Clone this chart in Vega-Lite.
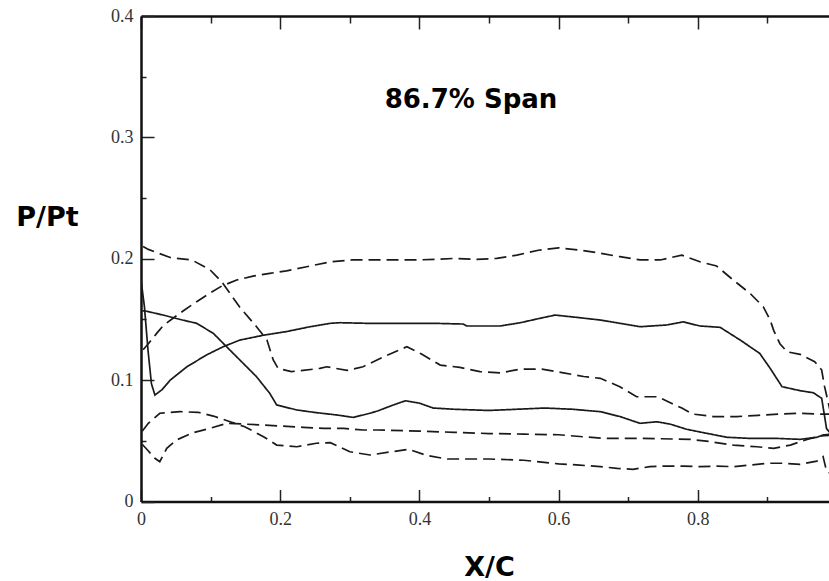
{
  "$schema": "https://vega.github.io/schema/vega-lite/v6.json",
  "autosize": {"type": "none"},
  "padding": {"left": 141, "top": 16, "right": 0, "bottom": 79.5},
  "width": 688,
  "height": 485.5,
  "background": "white",
  "title": {
    "text": "86.7% Span",
    "font": "DejaVu Sans",
    "fontWeight": "bold",
    "fontSize": 26,
    "color": "#000",
    "anchor": "middle",
    "frame": "group",
    "orient": "top",
    "baseline": "alphabetic",
    "offset": 0,
    "dx": -14,
    "dy": 127
  },
  "config": {
    "view": {"stroke": null},
    "axis": {
      "grid": false,
      "domainColor": "#111",
      "domainWidth": 2.5,
      "tickColor": "#222",
      "tickWidth": 1.5,
      "labelFont": "Liberation Serif",
      "labelFontSize": 18,
      "labelColor": "#333"
    }
  },
  "data": {
    "values": [
      {"s": "A", "x": 0.003, "y": 0.21}, {"s": "A", "x": 0.0105, "y": 0.2077}, {"s": "A", "x": 0.042, "y": 0.201}, {"s": "A", "x": 0.073, "y": 0.199}, {"s": "A", "x": 0.099, "y": 0.191}, {"s": "A", "x": 0.116, "y": 0.181}, {"s": "A", "x": 0.142, "y": 0.16}, {"s": "A", "x": 0.166, "y": 0.144}, {"s": "A", "x": 0.181, "y": 0.133}, {"s": "A", "x": 0.19, "y": 0.1166}, {"s": "A", "x": 0.197, "y": 0.1097}, {"s": "A", "x": 0.216, "y": 0.107}, {"s": "A", "x": 0.233, "y": 0.108}, {"s": "A", "x": 0.257, "y": 0.1097}, {"s": "A", "x": 0.267, "y": 0.111}, {"s": "A", "x": 0.296, "y": 0.108}, {"s": "A", "x": 0.319, "y": 0.111}, {"s": "A", "x": 0.348, "y": 0.119}, {"s": "A", "x": 0.382, "y": 0.1275}, {"s": "A", "x": 0.403, "y": 0.1215}, {"s": "A", "x": 0.43, "y": 0.1124}, {"s": "A", "x": 0.458, "y": 0.1105}, {"s": "A", "x": 0.487, "y": 0.107}, {"s": "A", "x": 0.516, "y": 0.106}, {"s": "A", "x": 0.545, "y": 0.109}, {"s": "A", "x": 0.576, "y": 0.109}, {"s": "A", "x": 0.607, "y": 0.106}, {"s": "A", "x": 0.636, "y": 0.103}, {"s": "A", "x": 0.66, "y": 0.1015}, {"s": "A", "x": 0.688, "y": 0.0946}, {"s": "A", "x": 0.712, "y": 0.0863}, {"s": "A", "x": 0.743, "y": 0.0863}, {"s": "A", "x": 0.762, "y": 0.081}, {"s": "A", "x": 0.777, "y": 0.077}, {"s": "A", "x": 0.793, "y": 0.072}, {"s": "A", "x": 0.822, "y": 0.07}, {"s": "A", "x": 0.856, "y": 0.07}, {"s": "A", "x": 0.887, "y": 0.071}, {"s": "A", "x": 0.918, "y": 0.072}, {"s": "A", "x": 0.947, "y": 0.0727}, {"s": "A", "x": 0.976, "y": 0.072}, {"s": "A", "x": 1.0, "y": 0.072},

      {"s": "B", "x": 0.003, "y": 0.125}, {"s": "B", "x": 0.0105, "y": 0.13}, {"s": "B", "x": 0.0225, "y": 0.1385}, {"s": "B", "x": 0.032, "y": 0.145}, {"s": "B", "x": 0.046, "y": 0.151}, {"s": "B", "x": 0.063, "y": 0.158}, {"s": "B", "x": 0.08, "y": 0.1646}, {"s": "B", "x": 0.097, "y": 0.171}, {"s": "B", "x": 0.116, "y": 0.1775}, {"s": "B", "x": 0.1375, "y": 0.1825}, {"s": "B", "x": 0.161, "y": 0.1857}, {"s": "B", "x": 0.185, "y": 0.188}, {"s": "B", "x": 0.209, "y": 0.19}, {"s": "B", "x": 0.238, "y": 0.1934}, {"s": "B", "x": 0.272, "y": 0.1975}, {"s": "B", "x": 0.303, "y": 0.199}, {"s": "B", "x": 0.334, "y": 0.199}, {"s": "B", "x": 0.363, "y": 0.199}, {"s": "B", "x": 0.394, "y": 0.199}, {"s": "B", "x": 0.422, "y": 0.1995}, {"s": "B", "x": 0.451, "y": 0.2003}, {"s": "B", "x": 0.482, "y": 0.1995}, {"s": "B", "x": 0.511, "y": 0.2003}, {"s": "B", "x": 0.54, "y": 0.203}, {"s": "B", "x": 0.571, "y": 0.207}, {"s": "B", "x": 0.6, "y": 0.209}, {"s": "B", "x": 0.631, "y": 0.207}, {"s": "B", "x": 0.655, "y": 0.205}, {"s": "B", "x": 0.688, "y": 0.2017}, {"s": "B", "x": 0.717, "y": 0.199}, {"s": "B", "x": 0.746, "y": 0.199}, {"s": "B", "x": 0.777, "y": 0.203}, {"s": "B", "x": 0.803, "y": 0.1975}, {"s": "B", "x": 0.827, "y": 0.194}, {"s": "B", "x": 0.851, "y": 0.1824}, {"s": "B", "x": 0.875, "y": 0.1715}, {"s": "B", "x": 0.894, "y": 0.1605}, {"s": "B", "x": 0.904, "y": 0.1495}, {"s": "B", "x": 0.909, "y": 0.141}, {"s": "B", "x": 0.918, "y": 0.13}, {"s": "B", "x": 0.928, "y": 0.1234}, {"s": "B", "x": 0.947, "y": 0.1212}, {"s": "B", "x": 0.968, "y": 0.1152}, {"s": "B", "x": 0.978, "y": 0.1083}, {"s": "B", "x": 0.982, "y": 0.095}, {"s": "B", "x": 0.99, "y": 0.075}, {"s": "B", "x": 1.0, "y": 0.06},

      {"s": "C", "x": 0.0, "y": 0.183}, {"s": "C", "x": 0.005, "y": 0.16}, {"s": "C", "x": 0.01, "y": 0.125}, {"s": "C", "x": 0.015, "y": 0.097}, {"s": "C", "x": 0.02, "y": 0.0877}, {"s": "C", "x": 0.03, "y": 0.092}, {"s": "C", "x": 0.042, "y": 0.1}, {"s": "C", "x": 0.066, "y": 0.111}, {"s": "C", "x": 0.094, "y": 0.1207}, {"s": "C", "x": 0.118, "y": 0.1275}, {"s": "C", "x": 0.142, "y": 0.133}, {"s": "C", "x": 0.176, "y": 0.137}, {"s": "C", "x": 0.209, "y": 0.14}, {"s": "C", "x": 0.243, "y": 0.144}, {"s": "C", "x": 0.272, "y": 0.1468}, {"s": "C", "x": 0.286, "y": 0.1473}, {"s": "C", "x": 0.324, "y": 0.1468}, {"s": "C", "x": 0.372, "y": 0.1468}, {"s": "C", "x": 0.42, "y": 0.1468}, {"s": "C", "x": 0.463, "y": 0.1462}, {"s": "C", "x": 0.468, "y": 0.1446}, {"s": "C", "x": 0.516, "y": 0.1446}, {"s": "C", "x": 0.545, "y": 0.1473}, {"s": "C", "x": 0.573, "y": 0.1509}, {"s": "C", "x": 0.595, "y": 0.1536}, {"s": "C", "x": 0.626, "y": 0.1517}, {"s": "C", "x": 0.66, "y": 0.1495}, {"s": "C", "x": 0.688, "y": 0.1468}, {"s": "C", "x": 0.717, "y": 0.144}, {"s": "C", "x": 0.755, "y": 0.1454}, {"s": "C", "x": 0.779, "y": 0.148}, {"s": "C", "x": 0.803, "y": 0.1446}, {"s": "C", "x": 0.832, "y": 0.1435}, {"s": "C", "x": 0.861, "y": 0.133}, {"s": "C", "x": 0.889, "y": 0.122}, {"s": "C", "x": 0.904, "y": 0.1097}, {"s": "C", "x": 0.921, "y": 0.0946}, {"s": "C", "x": 0.947, "y": 0.0913}, {"s": "C", "x": 0.966, "y": 0.0896}, {"s": "C", "x": 0.978, "y": 0.085}, {"s": "C", "x": 0.985, "y": 0.06}, {"s": "C", "x": 1.0, "y": 0.05},

      {"s": "D", "x": 0.002, "y": 0.157}, {"s": "D", "x": 0.006, "y": 0.157}, {"s": "D", "x": 0.032, "y": 0.1536}, {"s": "D", "x": 0.056, "y": 0.15}, {"s": "D", "x": 0.08, "y": 0.1468}, {"s": "D", "x": 0.104, "y": 0.1385}, {"s": "D", "x": 0.123, "y": 0.1275}, {"s": "D", "x": 0.142, "y": 0.1166}, {"s": "D", "x": 0.166, "y": 0.1028}, {"s": "D", "x": 0.185, "y": 0.0891}, {"s": "D", "x": 0.195, "y": 0.0795}, {"s": "D", "x": 0.224, "y": 0.0754}, {"s": "D", "x": 0.252, "y": 0.0732}, {"s": "D", "x": 0.281, "y": 0.0713}, {"s": "D", "x": 0.305, "y": 0.0693}, {"s": "D", "x": 0.329, "y": 0.0727}, {"s": "D", "x": 0.341, "y": 0.0748}, {"s": "D", "x": 0.36, "y": 0.079}, {"s": "D", "x": 0.38, "y": 0.083}, {"s": "D", "x": 0.4, "y": 0.081}, {"s": "D", "x": 0.42, "y": 0.077}, {"s": "D", "x": 0.45, "y": 0.076}, {"s": "D", "x": 0.5, "y": 0.075}, {"s": "D", "x": 0.54, "y": 0.076}, {"s": "D", "x": 0.58, "y": 0.077}, {"s": "D", "x": 0.62, "y": 0.076}, {"s": "D", "x": 0.66, "y": 0.074}, {"s": "D", "x": 0.688, "y": 0.07}, {"s": "D", "x": 0.717, "y": 0.0644}, {"s": "D", "x": 0.741, "y": 0.0657}, {"s": "D", "x": 0.76, "y": 0.0638}, {"s": "D", "x": 0.784, "y": 0.0595}, {"s": "D", "x": 0.808, "y": 0.0567}, {"s": "D", "x": 0.842, "y": 0.0529}, {"s": "D", "x": 0.875, "y": 0.052}, {"s": "D", "x": 0.913, "y": 0.052}, {"s": "D", "x": 0.947, "y": 0.0512}, {"s": "D", "x": 0.971, "y": 0.0529}, {"s": "D", "x": 0.98, "y": 0.0548}, {"s": "D", "x": 1.0, "y": 0.056},

      {"s": "E", "x": 0.002, "y": 0.058}, {"s": "E", "x": 0.0105, "y": 0.0644}, {"s": "E", "x": 0.027, "y": 0.0727}, {"s": "E", "x": 0.056, "y": 0.074}, {"s": "E", "x": 0.082, "y": 0.0735}, {"s": "E", "x": 0.104, "y": 0.0704}, {"s": "E", "x": 0.128, "y": 0.0657}, {"s": "E", "x": 0.149, "y": 0.0616}, {"s": "E", "x": 0.176, "y": 0.0534}, {"s": "E", "x": 0.195, "y": 0.0465}, {"s": "E", "x": 0.224, "y": 0.0451}, {"s": "E", "x": 0.252, "y": 0.048}, {"s": "E", "x": 0.272, "y": 0.0485}, {"s": "E", "x": 0.3, "y": 0.041}, {"s": "E", "x": 0.329, "y": 0.0383}, {"s": "E", "x": 0.36, "y": 0.041}, {"s": "E", "x": 0.385, "y": 0.043}, {"s": "E", "x": 0.41, "y": 0.038}, {"s": "E", "x": 0.44, "y": 0.035}, {"s": "E", "x": 0.5, "y": 0.035}, {"s": "E", "x": 0.55, "y": 0.034}, {"s": "E", "x": 0.6, "y": 0.031}, {"s": "E", "x": 0.63, "y": 0.03}, {"s": "E", "x": 0.66, "y": 0.0287}, {"s": "E", "x": 0.684, "y": 0.0273}, {"s": "E", "x": 0.707, "y": 0.0265}, {"s": "E", "x": 0.731, "y": 0.0287}, {"s": "E", "x": 0.755, "y": 0.0292}, {"s": "E", "x": 0.779, "y": 0.0292}, {"s": "E", "x": 0.803, "y": 0.0287}, {"s": "E", "x": 0.827, "y": 0.0292}, {"s": "E", "x": 0.851, "y": 0.0287}, {"s": "E", "x": 0.875, "y": 0.03}, {"s": "E", "x": 0.899, "y": 0.0315}, {"s": "E", "x": 0.923, "y": 0.0315}, {"s": "E", "x": 0.947, "y": 0.0306}, {"s": "E", "x": 0.971, "y": 0.0333}, {"s": "E", "x": 0.98, "y": 0.037}, {"s": "E", "x": 0.985, "y": 0.025}, {"s": "E", "x": 1.0, "y": 0.02},

      {"s": "F", "x": 0.002, "y": 0.047}, {"s": "F", "x": 0.01, "y": 0.042}, {"s": "F", "x": 0.02, "y": 0.0356}, {"s": "F", "x": 0.027, "y": 0.0328}, {"s": "F", "x": 0.037, "y": 0.0438}, {"s": "F", "x": 0.051, "y": 0.0507}, {"s": "F", "x": 0.075, "y": 0.0567}, {"s": "F", "x": 0.099, "y": 0.0603}, {"s": "F", "x": 0.123, "y": 0.0644}, {"s": "F", "x": 0.147, "y": 0.0638}, {"s": "F", "x": 0.176, "y": 0.063}, {"s": "F", "x": 0.2, "y": 0.0622}, {"s": "F", "x": 0.233, "y": 0.0611}, {"s": "F", "x": 0.262, "y": 0.0603}, {"s": "F", "x": 0.291, "y": 0.0603}, {"s": "F", "x": 0.319, "y": 0.0589}, {"s": "F", "x": 0.339, "y": 0.0589}, {"s": "F", "x": 0.4, "y": 0.058}, {"s": "F", "x": 0.45, "y": 0.057}, {"s": "F", "x": 0.5, "y": 0.056}, {"s": "F", "x": 0.55, "y": 0.0555}, {"s": "F", "x": 0.6, "y": 0.055}, {"s": "F", "x": 0.664, "y": 0.052}, {"s": "F", "x": 0.72, "y": 0.052}, {"s": "F", "x": 0.789, "y": 0.0512}, {"s": "F", "x": 0.818, "y": 0.0493}, {"s": "F", "x": 0.851, "y": 0.0465}, {"s": "F", "x": 0.885, "y": 0.0451}, {"s": "F", "x": 0.909, "y": 0.0438}, {"s": "F", "x": 0.933, "y": 0.0465}, {"s": "F", "x": 0.957, "y": 0.0512}, {"s": "F", "x": 0.976, "y": 0.054}, {"s": "F", "x": 1.0, "y": 0.055}
    ]
  },
  "layer": [
    {
      "mark": {"type": "line", "clip": true, "color": "#1a1a1a", "strokeWidth": 1.7},
      "encoding": {
        "x": {
          "field": "x", "type": "quantitative",
          "scale": {"domain": [0, 0.9885], "nice": false, "zero": false},
          "axis": {
            "orient": "bottom",
            "values": [0, 0.1, 0.2, 0.3, 0.4, 0.5, 0.6, 0.7, 0.8, 0.9],
            "labelExpr": "round(datum.value*10)%2==0 ? format(datum.value,'~g') : ''",
            "tickSize": {"condition": {"test": "round(datum.value*10)%2==0", "value": -12}, "value": -5},
            "labelPadding": 21,
            "labelAlign": "center",
            "labelBaseline": "top",
            "labelFlush": false,
            "labelOverlap": false,
            "title": "X/C",
            "titleFont": "DejaVu Sans",
            "titleFontWeight": "bold",
            "titleFontSize": 27,
            "titleColor": "#000",
            "titleAlign": "center",
            "titleBaseline": "alphabetic",
            "titleAnchor": null,
            "titleX": 348,
            "titleY": 73.5
          }
        },
        "y": {
          "field": "y", "type": "quantitative",
          "scale": {"domain": [0, 0.4], "nice": false},
          "axis": {
            "orient": "left",
            "values": [0, 0.05, 0.1, 0.15, 0.2, 0.25, 0.3, 0.35, 0.4],
            "labelExpr": "round(datum.value*20)%2==0 ? format(datum.value,'~g') : ''",
            "tickSize": {"condition": {"test": "round(datum.value*20)%2==0", "value": -13}, "value": -5},
            "labelPadding": 21,
            "labelAlign": "right",
            "labelBaseline": "middle",
            "labelFlush": false,
            "labelOverlap": false,
            "title": "P/Pt",
            "titleFont": "DejaVu Sans",
            "titleFontWeight": "bold",
            "titleFontSize": 27,
            "titleColor": "#000",
            "titleAngle": 0,
            "titleAlign": "center",
            "titleBaseline": "alphabetic",
            "titleAnchor": null,
            "titleX": -94,
            "titleY": 209
          }
        },
        "detail": {"field": "s", "type": "nominal"},
        "strokeDash": {
          "field": "s", "type": "nominal",
          "scale": {"domain": ["A", "B", "C", "D", "E", "F"], "range": [[12, 6], [12, 6], [1, 0], [1, 0], [12, 6], [12, 6]]},
          "legend": null
        }
      }
    },
    {
      "mark": {"type": "line", "opacity": 0, "clip": true},
      "encoding": {
        "x": {
          "field": "x", "type": "quantitative",
          "axis": {
            "orient": "top",
            "values": [0, 0.1, 0.2, 0.3, 0.4, 0.5, 0.6, 0.7, 0.8, 0.9],
            "labels": false,
            "title": null,
            "tickSize": {"condition": {"test": "round(datum.value*10)%2==0", "value": -13}, "value": -7}
          }
        },
        "y": {"field": "y", "type": "quantitative"},
        "detail": {"field": "s", "type": "nominal"}
      }
    }
  ],
  "resolve": {"axis": {"x": "independent"}}
}
